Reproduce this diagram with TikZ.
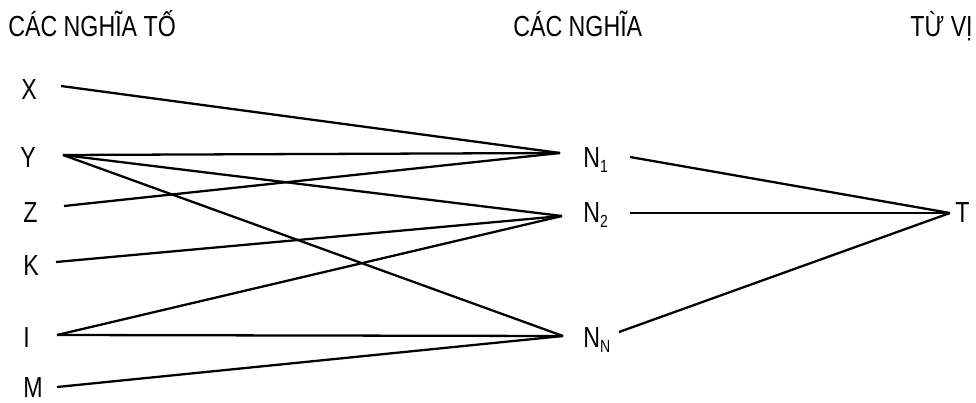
\documentclass[tikz,border=0pt]{standalone}
\usepackage{fontspec}
\setmainfont[FakeStretch=0.8]{Liberation Sans}
\usetikzlibrary{positioning}
\newcommand{\idx}[1]{\raisebox{-0.35ex}{\fontsize{10}{10}\selectfont #1}}

\begin{document}
\begin{tikzpicture}[x=0.02cm,y=-0.02cm,
  lbl/.style={anchor=base west,inner sep=0pt,font=\fontsize{16.5}{18}\selectfont},
  link/.style={line width=1.3pt}]
\useasboundingbox (0,0) rectangle (976,402);
% column heads
\node[lbl] (hA) at (8,37) {CÁC NGHĨA TỐ};
\node[lbl] (hB) at (513,37) {CÁC NGHĨA};
\node[lbl] (hC) at (910,37) {TỪ VỊ};

% left column
\node[lbl] (lX) at (21,99) {X};
\node[lbl] (lY) at (20,167) {Y};
\node[lbl] (lZ) at (23,222) {Z};
\node[lbl] (lK) at (23,275) {K};
\node[lbl] (lI) at (23,347) {I};
\node[lbl] (lM) at (23,397) {M};
\coordinate (X) at (61,86);
\coordinate (Y) at (63,155);
\coordinate (Z) at (64,206);
\coordinate (K) at (56,262);
\coordinate (I) at (57,335);
\coordinate (M) at (57,387);

% middle column
\node[lbl] (lN1) at (583,167) {N\idx{1}};
\node[lbl] (lN2) at (583,222) {N\idx{2}};
\node[lbl] (lNN) at (583,347) {N\idx{N}};
\coordinate (N1) at (560,153);
\coordinate (N2) at (562,216);
\coordinate (NN) at (563,336);
\coordinate (N1r) at (630,157);
\coordinate (N2r) at (630,213);
\coordinate (NNr) at (619,332);

% right column
\node[lbl] (lT) at (955,222) {T};
\coordinate (T) at (950,213);

\foreach \a/\b in {X/N1,Y/N1,Y/N2,Y/NN,Z/N1,K/N2,I/N2,I/NN,M/NN}
  \draw[link] (\a) -- (\b);

\draw[link] (N1r) -- (T);
\draw[line width=0.7pt] (N2r) -- (T);
\draw[link] (NNr) -- (T);
\end{tikzpicture}
\end{document}
